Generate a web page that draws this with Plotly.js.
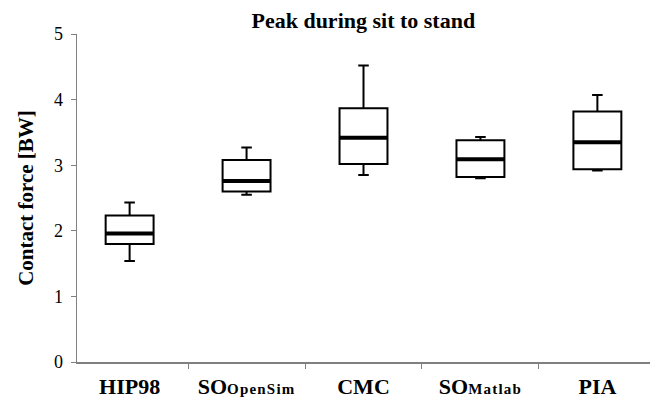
<!DOCTYPE html>
<html><head><meta charset="utf-8">
<script src="https://cdn.plot.ly/plotly-3.0.1.min.js"></script>
<style>html,body{margin:0;padding:0;background:#fff}</style>
</head><body><div id="chart" style="width:657px;height:398px"></div>
<script>
const categories = ["HIP98", "SO<span style='font-size:15px;letter-spacing:1.2px'>OpenSim</span>", "CMC", "SO<span style='font-size:15px;letter-spacing:1.2px'>Matlab</span>", "PIA"];
const lowerWhisker = [1.54, 2.55, 2.85, 2.80, 2.92];
const q1 = [1.80, 2.60, 3.02, 2.82, 2.94];
const median = [1.96, 2.76, 3.42, 3.09, 3.35];
const q3 = [2.235, 3.08, 3.87, 3.38, 3.82];
const upperWhisker = [2.43, 3.27, 4.52, 3.43, 4.07];
const yTicks = [0, 1, 2, 3, 4, 5];

const boxes = {
  type: "box", x: categories, q1: q1, median: median, q3: q3,
  lowerfence: lowerWhisker, upperfence: upperWhisker,
  width: 0.41, whiskerwidth: 0.22,
  fillcolor: "#ffffff", line: {color: "#000000", width: 2},
  boxpoints: false, hoverinfo: "skip", showlegend: false
};
const medians = {
  type: "box", x: categories, q1: median, median: median, q3: median,
  lowerfence: median, upperfence: median,
  width: 0.41, whiskerwidth: 0,
  fillcolor: "rgba(0,0,0,0)", line: {color: "#000000", width: 4},
  boxpoints: false, hoverinfo: "skip", showlegend: false
};

const layout = {
  width: 657, height: 398,
  margin: {l: 77, r: 7, t: 34, b: 36},
  paper_bgcolor: "#ffffff", plot_bgcolor: "#ffffff",
  boxmode: "overlay",
  font: {family: "Liberation Serif, Times New Roman, serif", color: "#000000"},
  title: {text: "<b>Peak during sit to stand</b>", x: 0.553, xanchor: "center", y: 0.95, yanchor: "middle",
          font: {size: 22, family: "Liberation Serif", color: "#000"}},
  xaxis: {
    type: "category", showline: true, linecolor: "#808080", linewidth: 1.5,
    ticks: "outside", tickson: "boundaries", ticklen: 5, tickcolor: "#808080",
    tickfont: {size: 22, family: "Liberation Serif", weight: "bold"},
    ticklabelstandoff: 4, showgrid: false, zeroline: false, fixedrange: true
  },
  yaxis: {
    range: [0, 5], tickvals: yTicks, ticktext: yTicks.map(String),
    showline: true, linecolor: "#808080", linewidth: 1.5,
    ticks: "outside", ticklen: 5, tickcolor: "#808080",
    tickfont: {size: 18, family: "Liberation Serif"},
    ticklabelstandoff: 4, showgrid: false, zeroline: false,
    title: {text: "<b>Contact force [BW]</b>", font: {size: 21, family: "Liberation Serif"}, standoff: 14}
  }
};
Plotly.newPlot("chart", [boxes, medians], layout, {displayModeBar: false, staticPlot: true});
</script></body></html>
